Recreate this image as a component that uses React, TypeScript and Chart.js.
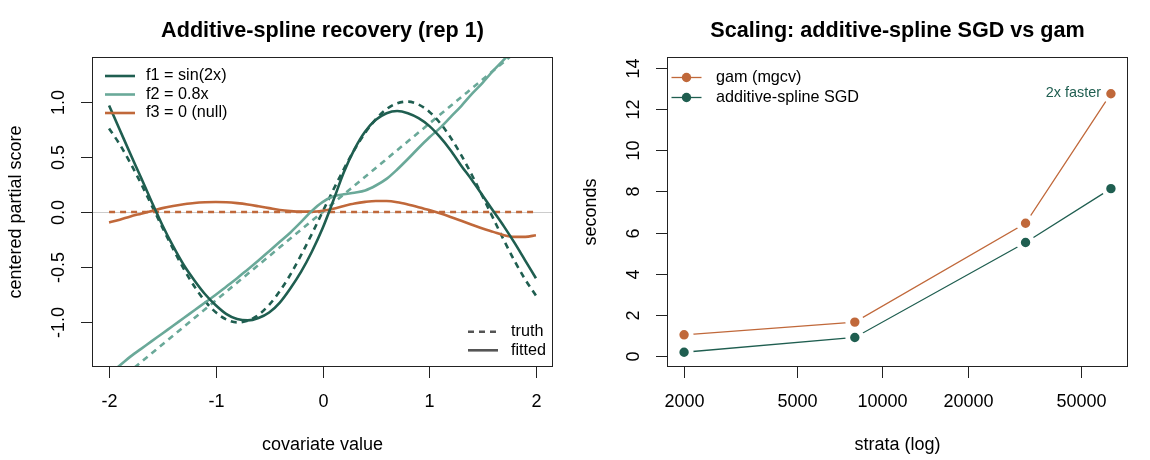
import React, { useEffect, useRef } from "react";
import { Chart, registerables } from "chart.js";

Chart.register(...registerables);

// ---------- Left panel data ----------
const covariateX = [
  -2.0, -1.9, -1.8, -1.7, -1.6, -1.5, -1.4, -1.3, -1.2, -1.1, -1.0, -0.9, -0.8, -0.7, -0.6, -0.5, -0.4, -0.3, -0.2, -0.1,
  0.0, 0.1, 0.2, 0.3, 0.4, 0.5, 0.6, 0.7, 0.8, 0.9, 1.0, 1.1, 1.2, 1.3, 1.4, 1.5, 1.6, 1.7, 1.8, 1.9, 2.0,
];
const f1Truth = [
  0.757, 0.612, 0.443, 0.256, 0.058, -0.141, -0.335, -0.516, -0.675, -0.808, -0.909, -0.974, -1.0, -0.985, -0.932, -0.841,
  -0.717, -0.565, -0.389, -0.199, 0.0, 0.199, 0.389, 0.565, 0.717, 0.841, 0.932, 0.985, 1.0, 0.974, 0.909, 0.808, 0.675,
  0.516, 0.335, 0.141, -0.058, -0.256, -0.443, -0.612, -0.757,
];
const f1Fitted = [
  0.965, 0.745, 0.525, 0.31, 0.09, -0.12, -0.31, -0.48, -0.62, -0.745, -0.845, -0.925, -0.97, -0.982, -0.96, -0.91, -0.82,
  -0.69, -0.54, -0.36, -0.15, 0.1, 0.36, 0.57, 0.73, 0.835, 0.895, 0.915, 0.895, 0.85, 0.78, 0.68, 0.56, 0.42, 0.29, 0.15,
  0.01, -0.13, -0.28, -0.44, -0.6,
];
const f2Fitted = [
  -1.46, -1.39, -1.31, -1.24, -1.17, -1.1, -1.03, -0.96, -0.89, -0.82, -0.75, -0.675, -0.6, -0.52, -0.44, -0.355, -0.27,
  -0.185, -0.09, 0.01, 0.09, 0.14, 0.16, 0.175, 0.195, 0.24, 0.3, 0.385, 0.48, 0.58, 0.675, 0.76, 0.86, 0.96, 1.07, 1.17,
  1.28, 1.38, 1.49, 1.6, 1.7,
];
const f3Fitted = [
  -0.095, -0.07, -0.04, -0.015, 0.01, 0.035, 0.055, 0.07, 0.082, 0.088, 0.09, 0.088, 0.08, 0.068, 0.052, 0.035, 0.018,
  0.008, 0.003, 0.003, 0.012, 0.03, 0.055, 0.077, 0.092, 0.1, 0.099, 0.088, 0.068, 0.044, 0.018, -0.012, -0.045, -0.08,
  -0.115, -0.15, -0.18, -0.21, -0.225, -0.225, -0.21,
];
const f2TruthX = [-2, 2];
const f2TruthY = [-1.6, 1.6];
const f3TruthX = [-2, 2];
const f3TruthY = [0, 0];

const leftXTicks = [-2, -1, 0, 1, 2];
const leftXTickLabels = ["-2", "-1", "0", "1", "2"];
const leftYTicks = [-1, -0.5, 0, 0.5, 1];
const leftYTickLabels = ["-1.0", "-0.5", "0.0", "0.5", "1.0"];
const leftSeriesNames = ["f1 = sin(2x)", "f2 = 0.8x", "f3 = 0 (null)"];
const leftStyleNames = ["truth", "fitted"];

// ---------- Right panel data ----------
const strata = [2000, 8000, 32000, 64000];
const gamSeconds = [1.01, 1.63, 6.45, 12.77];
const sgdSeconds = [0.16, 0.88, 5.51, 8.14];
const rightXTicks = [2000, 5000, 10000, 20000, 50000];
const rightXTickLabels = ["2000", "5000", "10000", "20000", "50000"];
const rightYTicks = [0, 2, 4, 6, 8, 10, 12, 14];
const rightYTickLabels = ["0", "2", "4", "6", "8", "10", "12", "14"];
const rightSeriesNames = ["gam (mgcv)", "additive-spline SGD"];
const annotationText = "2x faster";

// ---------- styling ----------
const DARK = "#1f5e50";
const TEAL = "#6aa999";
const ORANGE = "#c0683a";
const AXIS = "#222222";
const FONT = "'Liberation Sans', Arial, Helvetica, sans-serif";
const BASE = 18;
const LEG = 16.2;

const pad = { left: 92, top: 57, right: 22, bottom: 93 };

type Decor = {
  title: string;
  xTitle: string;
  yTitle: string;
  xTicks: number[];
  xTickLabels: string[];
  yTicks: number[];
  yTickLabels: string[];
  zeroLine?: boolean;
  legend: (ctx: CanvasRenderingContext2D, chart: any) => void;
};

function decorPlugin(d: Decor) {
  return {
    id: "rdecor",
    beforeDatasetsDraw(chart: any) {
      if (!d.zeroLine) return;
      const { ctx, chartArea: a, scales } = chart;
      const y = Math.round(scales.y.getPixelForValue(0)) + 0.5;
      ctx.save();
      ctx.strokeStyle = "#cccccc";
      ctx.lineWidth = 1;
      ctx.beginPath();
      ctx.moveTo(a.left, y);
      ctx.lineTo(a.right, y);
      ctx.stroke();
      ctx.restore();
    },
    afterDraw(chart: any) {
      const { ctx, chartArea: a, scales } = chart;
      const xs = scales.x;
      const ys = scales.y;
      ctx.save();
      ctx.strokeStyle = AXIS;
      ctx.lineWidth = 1;
      ctx.strokeRect(Math.round(a.left) + 0.5, Math.round(a.top) + 0.5, Math.round(a.right - a.left) - 1, Math.round(a.bottom - a.top) - 1);
      ctx.fillStyle = "#000";
      ctx.font = `${BASE}px ${FONT}`;
      const bottom = Math.round(a.bottom);
      d.xTicks.forEach((v, i) => {
        const px = Math.round(xs.getPixelForValue(v)) + 0.5;
        ctx.beginPath();
        ctx.moveTo(px, bottom);
        ctx.lineTo(px, bottom + 11);
        ctx.stroke();
        ctx.textAlign = "center";
        ctx.textBaseline = "middle";
        ctx.fillText(d.xTickLabels[i], px, a.bottom + 35);
      });
      const left = Math.round(a.left);
      d.yTicks.forEach((v, i) => {
        const py = Math.round(ys.getPixelForValue(v)) + 0.5;
        ctx.beginPath();
        ctx.moveTo(left, py);
        ctx.lineTo(left - 11, py);
        ctx.stroke();
        ctx.save();
        ctx.translate(a.left - 32.5, py);
        ctx.rotate(-Math.PI / 2);
        ctx.textAlign = "center";
        ctx.textBaseline = "middle";
        ctx.fillText(d.yTickLabels[i], 0, 0);
        ctx.restore();
      });
      ctx.textAlign = "center";
      ctx.textBaseline = "middle";
      ctx.fillText(d.xTitle, (a.left + a.right) / 2, a.bottom + 78);
      ctx.save();
      ctx.translate(a.left - 75.5, (a.top + a.bottom) / 2);
      ctx.rotate(-Math.PI / 2);
      ctx.fillText(d.yTitle, 0, 0);
      ctx.restore();
      ctx.font = `bold ${BASE * 1.2}px ${FONT}`;
      ctx.fillText(d.title, (a.left + a.right) / 2, 31);
      ctx.restore();
      ctx.save();
      d.legend(ctx, chart);
      ctx.restore();
    },
  };
}

function leftLegend(ctx: CanvasRenderingContext2D, chart: any) {
  const a = chart.chartArea;
  const colors = [DARK, TEAL, ORANGE];
  const rows = [76, 94.5, 113];
  ctx.font = `${LEG}px ${FONT}`;
  ctx.textAlign = "left";
  ctx.textBaseline = "middle";
  leftSeriesNames.forEach((name, i) => {
    ctx.strokeStyle = colors[i];
    ctx.lineWidth = 2.6;
    ctx.beginPath();
    ctx.moveTo(a.left + 13, rows[i]);
    ctx.lineTo(a.left + 43, rows[i]);
    ctx.stroke();
    ctx.fillStyle = "#000";
    ctx.fillText(name, a.left + 54, rows[i]);
  });
  const rows2 = [331.7, 350.3];
  leftStyleNames.forEach((name, i) => {
    ctx.strokeStyle = "#555555";
    ctx.lineWidth = 2.6;
    ctx.setLineDash(i === 0 ? [6, 5] : []);
    ctx.beginPath();
    ctx.moveTo(468, rows2[i]);
    ctx.lineTo(498, rows2[i]);
    ctx.stroke();
    ctx.setLineDash([]);
    ctx.fillStyle = "#000";
    ctx.fillText(name, 511, rows2[i]);
  });
}

function rightLegend(ctx: CanvasRenderingContext2D, chart: any) {
  const a = chart.chartArea;
  const colors = [ORANGE, DARK];
  const rows = [77.5, 97.5];
  ctx.font = `${LEG}px ${FONT}`;
  ctx.textAlign = "left";
  ctx.textBaseline = "middle";
  rightSeriesNames.forEach((name, i) => {
    ctx.strokeStyle = colors[i];
    ctx.lineWidth = 1.3;
    ctx.beginPath();
    ctx.moveTo(a.left + 4.5, rows[i]);
    ctx.lineTo(a.left + 34.5, rows[i]);
    ctx.stroke();
    ctx.fillStyle = colors[i];
    ctx.beginPath();
    ctx.arc(a.left + 19.5, rows[i], 4.7, 0, Math.PI * 2);
    ctx.fill();
    ctx.fillStyle = "#000";
    ctx.fillText(name, a.left + 49, rows[i]);
  });
  const xs = chart.scales.x;
  const ys = chart.scales.y;
  const n = strata.length - 1;
  const px = xs.getPixelForValue(strata[n]);
  const py = ys.getPixelForValue(gamSeconds[n]);
  ctx.font = `${BASE * 0.8}px ${FONT}`;
  ctx.fillStyle = DARK;
  ctx.textAlign = "right";
  ctx.fillText(annotationText, px - 10, py - 0.5);
}

function toXY(xs: number[], ys: number[]) {
  return xs.map((x, i) => ({ x, y: ys[i] }));
}

function LeftPanel() {
  const ref = useRef<HTMLCanvasElement>(null);
  useEffect(() => {
    const lineDs = (label: string, data: any, color: string, dashed: boolean) => ({
      label,
      data,
      borderColor: color,
      borderWidth: 2.6,
      borderDash: dashed ? [6, 5] : [],
      pointRadius: 0,
      fill: false,
      cubicInterpolationMode: "monotone" as const,
      clip: 0,
    });
    const chart = new Chart(ref.current!, {
      type: "line",
      data: {
        datasets: [
          lineDs("f1 fitted", toXY(covariateX, f1Fitted), DARK, false),
          lineDs("f2 fitted", toXY(covariateX, f2Fitted), TEAL, false),
          lineDs("f3 fitted", toXY(covariateX, f3Fitted), ORANGE, false),
          lineDs("f1 truth", toXY(covariateX, f1Truth), DARK, true),
          lineDs("f2 truth", toXY(f2TruthX, f2TruthY), TEAL, true),
          lineDs("f3 truth", toXY(f3TruthX, f3TruthY), ORANGE, true),
        ],
      },
      options: {
        responsive: false,
        animation: false,
        devicePixelRatio: 1,
        layout: { padding: pad },
        plugins: { legend: { display: false }, tooltip: { enabled: false }, title: { display: false } },
        scales: {
          x: { type: "linear", min: -2.16, max: 2.16, display: false },
          y: { type: "linear", min: -1.404, max: 1.404, display: false },
        },
      },
      plugins: [
        decorPlugin({
          title: "Additive-spline recovery (rep 1)",
          xTitle: "covariate value",
          yTitle: "centered partial score",
          xTicks: leftXTicks,
          xTickLabels: leftXTickLabels,
          yTicks: leftYTicks,
          yTickLabels: leftYTickLabels,
          zeroLine: true,
          legend: leftLegend,
        }),
      ],
    });
    return () => chart.destroy();
  }, []);
  return <canvas ref={ref} width={575} height={460} style={{ position: "absolute", left: 0, top: 0 }} />;
}

function RightPanel() {
  const ref = useRef<HTMLCanvasElement>(null);
  useEffect(() => {
    const ds = (label: string, ys: number[], color: string) => ({
      label,
      data: toXY(strata, ys),
      borderColor: color,
      borderWidth: 1.3,
      pointRadius: 7.1,
      pointBorderWidth: 4.8,
      pointBorderColor: "#ffffff",
      pointBackgroundColor: color,
      tension: 0,
      fill: false,
    });
    const lx = Math.log10(strata[0]);
    const hx = Math.log10(strata[strata.length - 1]);
    const ex = (hx - lx) * 0.04;
    const chart = new Chart(ref.current!, {
      type: "line",
      data: {
        datasets: [ds(rightSeriesNames[0], gamSeconds, ORANGE), ds(rightSeriesNames[1], sgdSeconds, DARK)],
      },
      options: {
        responsive: false,
        animation: false,
        devicePixelRatio: 1,
        layout: { padding: pad },
        plugins: { legend: { display: false }, tooltip: { enabled: false }, title: { display: false } },
        scales: {
          x: { type: "logarithmic", min: Math.pow(10, lx - ex), max: Math.pow(10, hx + ex), display: false },
          y: { type: "linear", min: -0.56, max: 14.56, display: false },
        },
      },
      plugins: [
        decorPlugin({
          title: "Scaling: additive-spline SGD vs gam",
          xTitle: "strata (log)",
          yTitle: "seconds",
          xTicks: rightXTicks,
          xTickLabels: rightXTickLabels,
          yTicks: rightYTicks,
          yTickLabels: rightYTickLabels,
          legend: rightLegend,
        }),
      ],
    });
    return () => chart.destroy();
  }, []);
  return <canvas ref={ref} width={575} height={460} style={{ position: "absolute", left: 575, top: 0 }} />;
}

export default function App() {
  return (
    <div style={{ position: "fixed", left: 0, top: 0, width: 1150, height: 460, background: "#ffffff" }}>
      <LeftPanel />
      <RightPanel />
    </div>
  );
}
